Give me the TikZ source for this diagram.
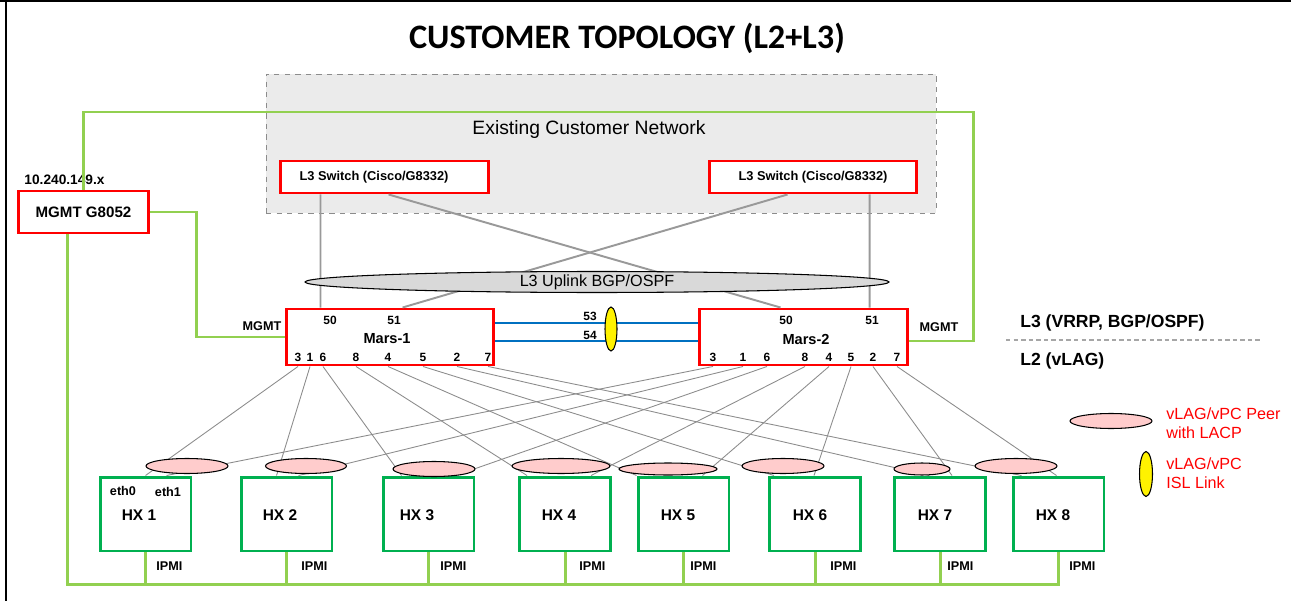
\documentclass[tikz,border=0pt]{standalone}
\usepackage{fontspec}
\setmainfont{Liberation Sans}
\newfontfamily\titlefont{Carlito}
\usetikzlibrary{shapes.geometric}
\usetikzlibrary{calc}

\definecolor{mgmtgreen}{RGB}{146,208,80}
\definecolor{hostgreen}{RGB}{0,176,80}
\definecolor{islblue}{RGB}{0,112,192}
\definecolor{lagpink}{RGB}{255,204,204}
\definecolor{netgray}{RGB}{235,235,235}

\tikzset{
  switchbox/.style={draw=red, line width=1.7pt, fill=white, inner sep=0pt},
  hostbox/.style={draw=hostgreen, line width=1.7pt, fill=white, inner sep=0pt,
    minimum width=1.82cm, minimum height=1.48cm},
  hostlabel/.style={font=\bfseries\fontsize{8.8}{10}\selectfont, inner sep=0pt},
  lag/.style={ellipse, draw, fill=lagpink, line width=0.6pt, inner sep=0pt},
  isl/.style={ellipse, draw, fill=yellow, line width=0.6pt, inner sep=0pt},
  mgmtlink/.style={draw=mgmtgreen, line width=1.7pt},
  uplink/.style={draw=black!40, line width=1.1pt},
  hostlink/.style={draw=black!45, line width=0.5pt},
  portnum/.style={font=\bfseries\fontsize{6.8}{8}\selectfont, inner sep=0pt},
  smalllabel/.style={font=\bfseries\fontsize{7.2}{8}\selectfont, inner sep=0pt},
  legendtext/.style={text=red, font=\fontsize{9.2}{11}\selectfont, align=left, anchor=west, inner sep=0pt},
}

\begin{document}
\begin{tikzpicture}[x=0.02cm, y=-0.02cm]
  \useasboundingbox (0,0) rectangle (1291,601);
  \draw[line width=0.9pt] (0,1) -- (1291,1);
  \draw[line width=0.9pt] (6,1) -- (6,601);

  \node[font=\titlefont\bfseries\fontsize{19.5}{22}\selectfont] (title) at (627,38) {CUSTOMER TOPOLOGY (L2+L3)};

  % customer network
  \node[draw=black!45, dashed, fill=netgray, inner sep=0pt, minimum width=13.4cm, minimum height=2.78cm] (custnet) at (601,143.5) {};
  \node[font=\fontsize{11}{13}\selectfont] (custlabel) at (589,130) {Existing Customer Network};
  \node[switchbox, minimum width=4.18cm, minimum height=0.64cm] (sw1) at (384.5,177) {};
  \node[font=\bfseries\fontsize{7.3}{9}\selectfont] (sw1label) at (374,177) {L3 Switch (Cisco/G8332)};
  \node[switchbox, minimum width=4.16cm, minimum height=0.64cm, font=\bfseries\fontsize{7.3}{9}\selectfont] (sw2) at (813,177) {L3 Switch (Cisco/G8332)};

  \node[switchbox, minimum width=2.62cm, minimum height=0.84cm, font=\bfseries\fontsize{8.6}{10}\selectfont] (mgmt) at (83.5,212) {MGMT G8052};
  \node[font=\bfseries\fontsize{7.8}{9}\selectfont] (mgmtip) at (64.5,180) {10.240.149.x};

  \node[switchbox, minimum width=4.16cm, minimum height=1.12cm] (mars1) at (390,337) {};
  \node[switchbox, minimum width=4.18cm, minimum height=1.12cm] (mars2) at (803.5,337) {};
  \node[font=\bfseries\fontsize{8.3}{10}\selectfont] (mars1label) at (387,339) {Mars-1};
  \node[font=\bfseries\fontsize{8.3}{10}\selectfont] (mars2label) at (806,339) {Mars-2};

  \node[portnum] (m1p50) at (330,320) {50};
  \node[portnum] (m1p51) at (394,320) {51};
  \node[portnum] (m2p50) at (786,320) {50};
  \node[portnum] (m2p51) at (872,320) {51};
  \foreach \p/\x in {3/298,1/310,6/323,8/356,4/388,5/423,2/457,7/488}
    \node[portnum] (m1p\p) at (\x,357) {\p};
  \foreach \p/\x in {3/713,1/743,6/767,8/805,4/829,5/851,2/873,7/897}
    \node[portnum] (m2p\p) at (\x,357) {\p};
  \node[smalllabel] (mgmtlabel1) at (262,326) {MGMT};
  \node[smalllabel] (mgmtlabel2) at (939,327) {MGMT};

  % management network
  \draw[mgmtlink] (mgmt.north) |- (973,112) |- ($(mars2.east)+(0,4)$);
  \draw[mgmtlink] (mgmt.east) -| ($(mars1.west)+(-88,0)$) -- (mars1.west);

  % uplinks
  \draw[uplink] ($(sw1.south west)+(42,0)$) -- ($(mars1.north west)+(36,0)$);
  \draw[uplink] ($(sw1.south west)+(110,0)$) -- ($(mars2.north west)+(83,0)$);
  \draw[uplink] ($(sw2.south west)+(80,0)$) -- ($(mars1.north west)+(118,0)$);
  \draw[uplink] ($(sw2.south west)+(162,0)$) -- ($(mars2.north west)+(172,0)$);
  \node[ellipse, draw, fill=black!15, line width=0.6pt, inner sep=0pt, minimum width=11.68cm, minimum height=0.42cm] (uplinkbgp) at (597,282) {};
  \node[font=\fontsize{9.2}{11}\selectfont] (uplinklabel) at (597,282) {L3 Uplink BGP/OSPF};

  % ISL
  \draw[islblue, line width=1.7pt] ($(mars1.east)+(0,-14)$) -- ($(mars2.west)+(0,-14)$);
  \draw[islblue, line width=1.7pt] ($(mars1.east)+(0,4)$) -- ($(mars2.west)+(0,4)$);
  \node[portnum] (isl53) at (590,316) {53};
  \node[portnum] (isl54) at (590,335) {54};
  \node[isl, minimum width=0.24cm, minimum height=0.88cm] (islpeer) at (611,329) {};

  % hosts
  \foreach \h/\x/\o in {1/145.5/-6.5,2/286.5/-6.5,3/428.5/-11.5,4/565/-6,5/683.5/-5.5,6/815/-5,7/940/-5,8/1058.5/-5.5} {
    \node[hostbox] (hx\h) at (\x,514) {};
    \node[hostlabel] (hxlabel\h) at ($(hx\h)+(\o,1)$) {HX \h};
  }
  \foreach \h/\p/\a/\b in {1/3/47/68,2/1/37/59,3/6/20/74,4/8/9/73,5/4/0/66,6/5/6/46,7/2/36/59,8/7/10/45} {
    \draw[hostlink] (m1p\p |- mars1.south) -- ($(hx\h.north west)+(\a,0)$);
    \draw[hostlink] (m2p\p |- mars2.south) -- ($(hx\h.north west)+(\b,0)$);
  }
  \foreach \h/\x/\y/\w/\t in {1/187/466/1.64cm/0.30cm,2/306/466/1.62cm/0.30cm,3/434/469/1.64cm/0.30cm,4/561/466/1.96cm/0.30cm,
    5/668/469/1.96cm/0.24cm,6/783/466/1.64cm/0.30cm,7/922/469/1.12cm/0.24cm,8/1016/466/1.64cm/0.30cm}
    \node[lag, minimum width=\w, minimum height=\t] (lag\h) at (\x,\y) {};
  \node[smalllabel] (eth0) at (123,491) {eth0};
  \node[smalllabel] (eth1) at (168,492) {eth1};

  % IPMI
  \draw[mgmtlink] ($(mgmt.south)+(-16,0)$) -- ++(0,350) -| (hx8.south);
  \foreach \h/\d in {1/10.5,2/14.5,3/11.5,4/14,5/6.5,6/15,7/7,8/10.5} {
    \draw[mgmtlink] (hx\h.south) -- ++(0,32);
    \node[smalllabel, anchor=west] (ipmi\h) at ($(hx\h.south)+(\d,14)$) {IPMI};
  }

  % layers and legend
  \node[anchor=west, inner sep=0pt, font=\bfseries\fontsize{10}{12}\selectfont] (l3text) at (1020,323) {L3 (VRRP, BGP/OSPF)};
  \node[anchor=west, inner sep=0pt, font=\bfseries\fontsize{10}{12}\selectfont] (l2text) at (1020,361) {L2 (vLAG)};
  \coordinate (divl) at (1006,340);
  \coordinate (divr) at (1261,340);
  \draw[black!35, line width=0.7pt, dash pattern=on 2.5pt off 1.8pt] (divl) -- (divr);

  \node[lag, minimum width=1.64cm, minimum height=0.30cm] (keylag) at (1111,421) {};
  \node[legendtext] (keylagtext) at (1166,423.5) {vLAG/vPC Peer\\with LACP};
  \node[isl, minimum width=0.26cm, minimum height=0.9cm] (keyisl) at (1146,474) {};
  \node[legendtext] (keyisltext) at (1166,473) {vLAG/vPC\\ISL Link};
\end{tikzpicture}
\end{document}
